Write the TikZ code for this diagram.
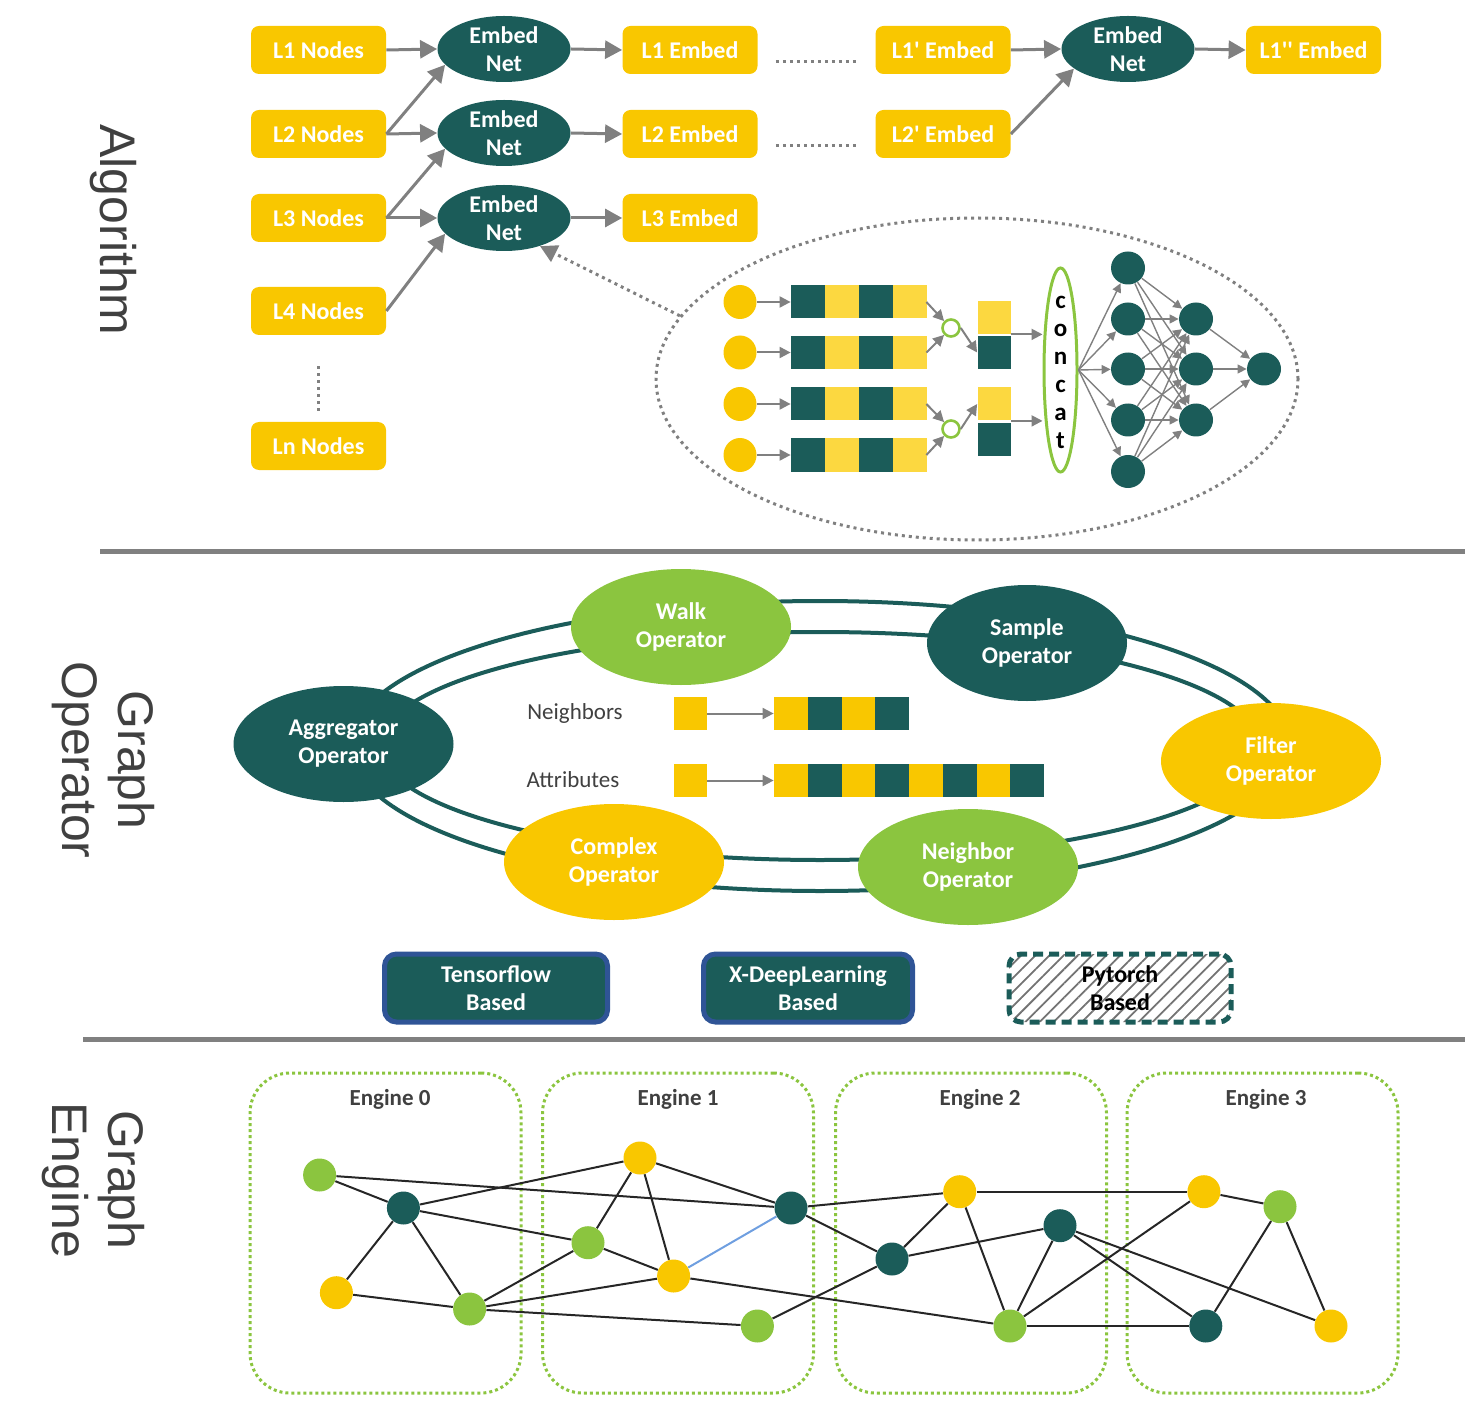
\documentclass[tikz,border=0pt]{standalone}
\usepackage{fontspec}
\setmainfont{Carlito}
\newfontfamily\sidefont{Liberation Sans}
\usetikzlibrary{shapes.geometric,arrows.meta,patterns.meta,calc}
\definecolor{cY}{HTML}{F9C700}
\definecolor{cYl}{HTML}{FCD840}
\definecolor{cD}{HTML}{1B5C59}
\definecolor{cG}{HTML}{8BC53F}
\definecolor{cGr}{HTML}{808080}
\definecolor{cN}{HTML}{2F5496}
\definecolor{cT}{HTML}{404040}
\definecolor{cB}{HTML}{6F9FE0}
\begin{document}
\begin{tikzpicture}[x=0.5pt,y=-0.5pt,
  txt/.style={font=\bfseries\fontsize{12}{14}\selectfont},
  lbox/.style={rectangle, rounded corners=4pt, fill=cY, minimum width=67.5pt, minimum height=24pt, inner sep=0pt, text=white, txt},
  enet/.style={ellipse, fill=cD, minimum width=66.5pt, minimum height=33pt, inner sep=0pt, align=center, text=white, txt},
  garr/.style={draw=cGr, line width=1.5pt, -{Triangle[length=8.5pt,width=9pt]}},
  gdot/.style={draw=cGr, line width=1.5pt, dotted},
  darr/.style={draw=cGr, line width=1pt, -{Triangle[length=5.5pt,width=5.5pt]}},
  nnarr/.style={draw=cGr, line width=0.7pt, -{Triangle[length=4.5pt,width=4.5pt]}},
  side/.style={rotate=-90, align=center, font=\sidefont\fontsize{25}{28}\selectfont, text=cT},
  sep/.style={draw=cGr, line width=2.5pt},
  ycirc/.style={ellipse, fill=cY, minimum width=16.5pt, minimum height=17pt, inner sep=0pt},
  cell/.style={rectangle, minimum width=17pt, minimum height=16.5pt, inner sep=0pt},
  frame/.style={rectangle, inner sep=0pt},
  mcirc/.style={circle, draw=cG, line width=1.3pt, fill=white, minimum size=8.5pt, inner sep=0pt},
  nn/.style={ellipse, fill=cD, minimum width=17pt, minimum height=16.5pt, inner sep=0pt},
  ring/.style={draw=cD, line width=2pt},
  op/.style={ellipse, minimum width=110pt, minimum height=58pt, inner sep=0pt, align=center, text=white, txt},
  sq/.style={rectangle, minimum size=16.5pt, inner sep=0pt},
  nlab/.style={font=\fontsize{11.5}{14}\selectfont, text=cT},
  basebox/.style={rectangle, rounded corners=6pt, line width=2.5pt, align=center, txt, inner sep=0pt, minimum height=34pt},
  ebox/.style={rectangle, draw=cG, line width=1.5pt, dash pattern=on 1.5pt off 1.5pt, rounded corners=20pt, minimum width=135.5pt, minimum height=160pt, inner sep=0pt},
  elab/.style={font=\bfseries\fontsize{11.5}{14}\selectfont, text=cT},
  gn/.style={circle, minimum size=16.5pt, inner sep=0pt},
  ge/.style={draw=black!85, line width=1pt}
]
\useasboundingbox (0,0) rectangle (1465,1411);

% ---------------- side labels and separators
\node[side] (sA) at (113,230) {Algorithm};
\node[side] (sO) at (103,760) {Graph\\Operator};
\node[side] (sE) at (93,1180) {Graph\\Engine};
\draw[sep] (100,551) -- (1465,551);
\draw[sep] (83,1039) -- (1465,1039);

% ---------------- Algorithm
\node[lbox] (L1) at (318.5,50) {L1 Nodes};
\node[lbox] (L2) at (318.5,134) {L2 Nodes};
\node[lbox] (L3) at (318.5,218) {L3 Nodes};
\node[lbox] (L4) at (318.5,311) {L4 Nodes};
\node[lbox] (Ln) at (318.5,446) {Ln Nodes};
\draw[gdot] ($(L4.south)+(0,31)$) -- ($(Ln.north)+(0,-10)$);

\node[enet] (E1) at (504,49) {Embed\\Net};
\node[enet] (E2) at (504,133) {Embed\\Net};
\node[enet] (E3) at (504,218) {Embed\\Net};
\node[lbox] (LE1) at (690,50) {L1 Embed};
\node[lbox] (LE2) at (690,134) {L2 Embed};
\node[lbox] (LE3) at (690,218) {L3 Embed};
\node[lbox] (LP1) at (943,50) {L1\textquotesingle{} Embed};
\node[lbox] (LP2) at (943,134) {L2\textquotesingle{} Embed};
\node[enet] (E4) at (1128,49) {Embed\\Net};
\node[lbox] (LPP) at (1313.5,50) {L1\textquotesingle\textquotesingle{} Embed};

\draw[garr] (L1.east) -- (E1.west);
\draw[garr] (L2.east) -- (E1.195);
\draw[garr] (L2.east) -- (E2.west);
\draw[garr] (L3.east) -- (E2.195);
\draw[garr] (L3.east) -- (E3.west);
\draw[garr] (L4.east) -- (E3.195);
\draw[garr] (E1.east) -- (LE1.west);
\draw[garr] (E2.east) -- (LE2.west);
\draw[garr] (E3.east) -- (LE3.west);
\draw[garr] (LP1.east) -- (E4.west);
\draw[garr] (LP2.east) -- (E4.200);
\draw[garr] (E4.east) -- (LPP.west);
\draw[gdot] ($(LE1.east)+(18,12)$) -- ($(LP1.west)+(-18,12)$);
\draw[gdot] ($(LE2.east)+(18,12)$) -- ($(LP2.west)+(-18,12)$);

% ---------------- detail ellipse
\node[ellipse, draw=cGr, dotted, line width=1.5pt, minimum width=321pt, minimum height=161pt, inner sep=0pt] (detail) at (977,379) {};
\draw[gdot, -{Triangle[length=8.5pt,width=9pt]}] (detail.168) -- (E3.-38);

\foreach \yy/\nm/\cn in {302/b1/c1,352.5/b2/c2,404/b3/c3,455/b4/c4}{
  \node[ycirc] (\cn) at (740,\yy) {};
  \node[cell, fill=cD] at (808,\yy) {};
  \node[cell, fill=cYl] at (841.5,\yy) {};
  \node[cell, fill=cD] at (875.5,\yy) {};
  \node[cell, fill=cYl] at (909.5,\yy) {};
  \node[frame, minimum width=67.5pt, minimum height=16.5pt] (\nm) at (858.5,\yy) {};
  \draw[darr] (\cn.east) -- (\nm.west);
}
\node[mcirc] (m1) at (951,328) {};
\node[mcirc] (m2) at (951,429) {};
\node[sq, fill=cYl] (s1y) at (994,317.5) {};
\node[sq, fill=cD] (s1d) at (994,352.5) {};
\node[sq, fill=cYl] (s2y) at (994,404) {};
\node[sq, fill=cD] (s2d) at (994,440) {};
\draw[darr] (b1.east) -- (m1.north west);
\draw[darr] (b2.east) -- (m1.south west);
\draw[darr] (m1.east) -- (s1d.west);
\draw[darr] (b3.east) -- (m2.north west);
\draw[darr] (b4.east) -- (m2.south west);
\draw[darr] (m2.east) -- (s2y.west);

\node[ellipse, draw=cG, line width=1.5pt, minimum width=16.5pt, minimum height=102pt, inner sep=0pt] (cc) at (1060.5,370) {};
\node[align=center, font=\bfseries\fontsize{12.5}{14}\selectfont, inner sep=0pt] (cctext) at (1060.5,372) {c\\o\\n\\c\\a\\t};
\draw[darr] (s1y.south east) -- (s1y.south east -| cc.west);
\draw[darr] (s2y.south east) -- (s2y.south east -| cc.west);

\foreach \i/\yy in {1/268,2/319,3/369,4/420,5/471.5}{
  \node[nn] (n1\i) at (1128,\yy) {};
  \draw[nnarr] (cc.east) -- (n1\i);
}
\foreach \j/\yy in {1/319,2/369,3/420}{
  \node[nn] (n2\j) at (1196,\yy) {};
}
\node[nn] (n31) at (1264,369) {};
\foreach \i in {1,...,5}{
  \foreach \j in {1,2,3}{
    \draw[nnarr] (n1\i) -- (n2\j);
  }
}
\foreach \j in {1,2,3}{ \draw[nnarr] (n2\j) -- (n31); }

% ---------------- Graph Operator
\draw[ring] (820,746) ellipse [x radius=235pt, y radius=72.5pt];
\draw[ring] (820,746) ellipse [x radius=220pt, y radius=57pt];
\node[op, fill=cG] (walk) at (681,627) {Walk\\Operator};
\node[op, fill=cD, minimum width=100pt] (sample) at (1027,643) {Sample\\Operator};
\node[op, fill=cD] (aggr) at (343.5,744) {Aggregator\\Operator};
\node[op, fill=cY] (filter) at (1271,761) {Filter\\Operator};
\node[op, fill=cY] (complex) at (614,862) {Complex\\Operator};
\node[op, fill=cG] (neigh) at (968,867) {Neighbor\\Operator};

\node[nlab] (tN) at (575,713) {Neighbors};
\node[nlab] (tA) at (573,780) {Attributes};
\node[sq, fill=cY] (nsq) at (690.5,713.5) {};
\node[sq, fill=cY] (asq) at (690.5,780.5) {};
\foreach \i in {0,1}{
  \node[cell, minimum width=16.9pt, fill=cY] at ({790.9+67.5*\i},713.5) {};
  \node[cell, minimum width=16.9pt, fill=cD] at ({824.6+67.5*\i},713.5) {};
}
\foreach \i in {0,...,3}{
  \node[cell, minimum width=16.9pt, fill=cY] at ({790.9+67.5*\i},780.5) {};
  \node[cell, minimum width=16.9pt, fill=cD] at ({824.6+67.5*\i},780.5) {};
}
\node[frame, minimum width=67.5pt, minimum height=16.5pt] (nbar) at (841.5,713.5) {};
\node[frame, minimum width=135pt, minimum height=16.5pt] (abar) at (909,780.5) {};
\draw[darr] (nsq.east) -- (nbar.west);
\draw[darr] (asq.east) -- (abar.west);

\node[basebox, draw=cN, fill=cD, text=white, minimum width=111.5pt] (tf) at (496,988) {Tensorflow\\Based};
\node[basebox, draw=cN, fill=cD, text=white, minimum width=104.5pt] (xdl) at (808,988) {X-DeepLearning\\Based};
\node[basebox, draw=cD, dash pattern=on 5pt off 3pt, pattern={Lines[angle=45,distance=5pt,line width=0.9pt]}, pattern color=black!55, text=black, minimum width=111pt] (pt) at (1120,988) {Pytorch\\Based};

% ---------------- Graph Engine
\node[ebox] (eg0) at (385.5,1233) {};
\node[ebox] (eg1) at (678,1233) {};
\node[ebox] (eg2) at (971,1233) {};
\node[ebox] (eg3) at (1262.5,1233) {};
\node[elab] (el0) at (390,1099) {Engine 0};
\node[elab] (el1) at (678,1099) {Engine 1};
\node[elab] (el2) at (980,1099) {Engine 2};
\node[elab] (el3) at (1266,1099) {Engine 3};

\node[gn, fill=cG] (G0) at (319.6,1175) {};
\node[gn, fill=cD] (D0) at (403.4,1208) {};
\node[gn, fill=cY] (Y0) at (336.4,1292.7) {};
\node[gn, fill=cG] (G1) at (469.6,1309) {};
\node[gn, fill=cY] (Y1) at (640,1158) {};
\node[gn, fill=cG] (G2) at (588,1242.7) {};
\node[gn, fill=cY] (Y2) at (673.6,1276) {};
\node[gn, fill=cD] (D1) at (791,1208) {};
\node[gn, fill=cG] (G3) at (757.4,1326) {};
\node[gn, fill=cY] (Y3) at (959.7,1191.7) {};
\node[gn, fill=cD] (D2) at (892,1259) {};
\node[gn, fill=cD] (D3) at (1060,1225.7) {};
\node[gn, fill=cG] (G4) at (1010,1326) {};
\node[gn, fill=cY] (Y4) at (1203.9,1191.7) {};
\node[gn, fill=cG] (G5) at (1280,1206.7) {};
\node[gn, fill=cD] (D4) at (1205.8,1326) {};
\node[gn, fill=cY] (Y5) at (1331,1326) {};

\foreach \a/\b in {G0/D0,G0/D1,D0/Y0,D0/G1,D0/Y1,D0/G2,Y0/G1,G1/G2,G1/Y2,G1/G3,Y1/G2,Y1/Y2,Y1/D1,G2/Y2,Y2/G4,G3/D2,D1/D2,D1/Y3,Y3/Y4,Y3/D2,Y3/G4,D2/D3,D3/G4,D3/D4,D3/Y5,G4/Y4,G4/D4,Y4/G5,G5/D4,G5/Y5}{
  \draw[ge] (\a) -- (\b);
}
\draw[draw=cB, line width=1pt] (Y2) -- (D1);
\end{tikzpicture}
\end{document}
